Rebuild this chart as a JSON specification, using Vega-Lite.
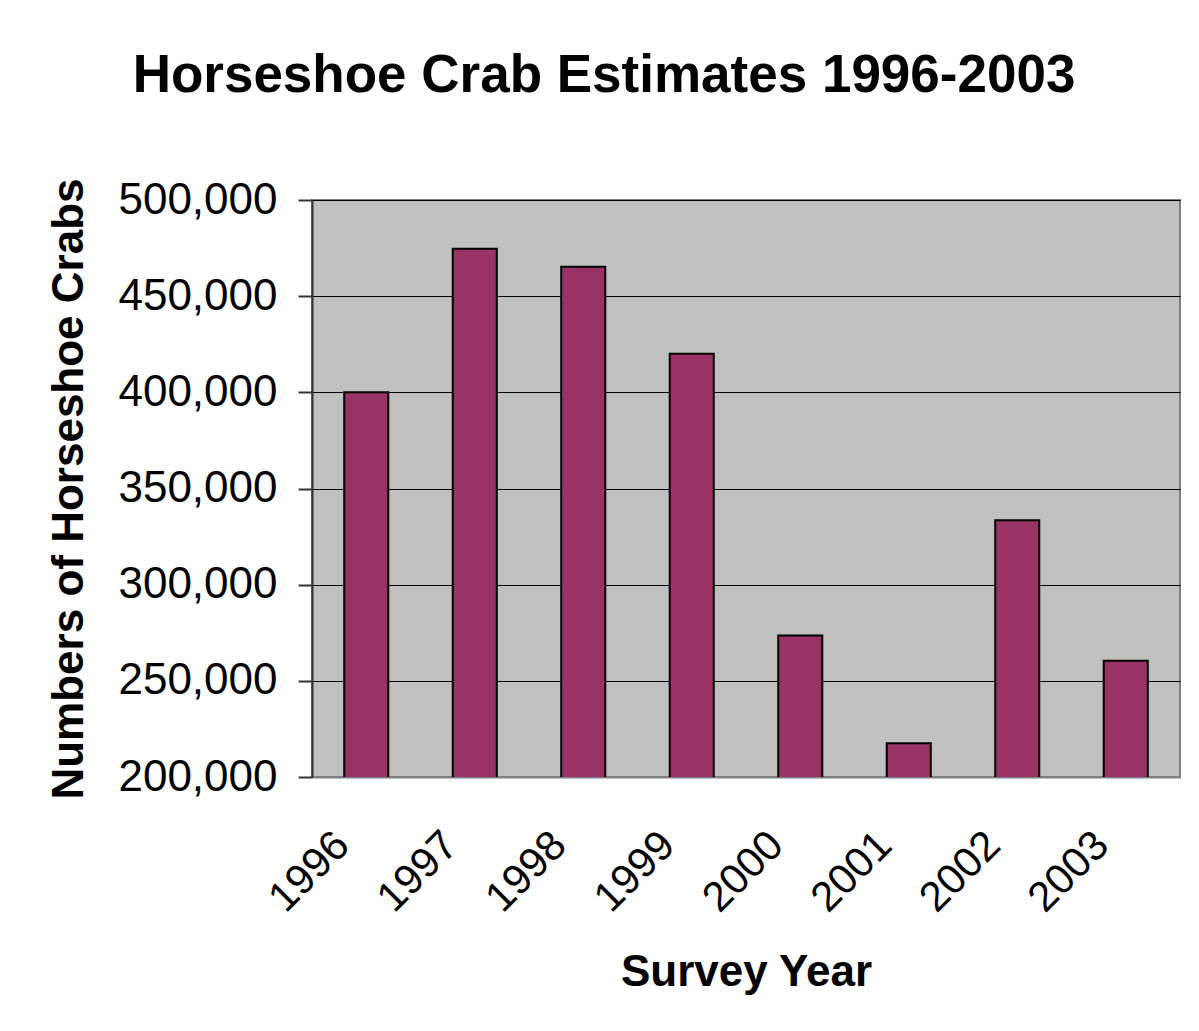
{
  "$schema": "https://vega.github.io/schema/vega-lite/v6.json",
  "width": 868,
  "height": 577,
  "autosize": {"type": "none"},
  "padding": {"left": 312, "top": 200, "right": 19, "bottom": 254},
  "background": "white",
  "title": {
    "text": "Horseshoe Crab Estimates 1996-2003",
    "font": "Liberation Sans",
    "fontSize": 53,
    "fontWeight": "bold",
    "color": "black",
    "anchor": "middle",
    "dx": -142,
    "offset": 75
  },
  "data": {
    "values": [
      {"year": "1996", "crabs": 400000},
      {"year": "1997", "crabs": 474600},
      {"year": "1998", "crabs": 465300},
      {"year": "1999", "crabs": 420000},
      {"year": "2000", "crabs": 273600},
      {"year": "2001", "crabs": 217500},
      {"year": "2002", "crabs": 333500},
      {"year": "2003", "crabs": 260400}
    ]
  },
  "mark": {"type": "bar", "fill": "#993366", "stroke": "black", "strokeWidth": 2, "clip": true},
  "encoding": {
    "x": {
      "field": "year",
      "type": "ordinal",
      "scale": {"paddingInner": 0.594, "paddingOuter": 0.297},
      "axis": {
        "title": "Survey Year",
        "labelAngle": -45,
        "labelFont": "Liberation Sans",
        "labelFontSize": 42,
        "labelColor": "black",
        "labelPadding": 47,
        "labelOffset": -38,
        "ticks": false,
        "domainColor": "#808080",
        "domainWidth": 2,
        "titleFont": "Liberation Sans",
        "titleFontSize": 44,
        "titleFontWeight": "bold",
        "titleColor": "black",
        "titlePadding": 31
      }
    },
    "y": {
      "field": "crabs",
      "type": "quantitative",
      "scale": {"domain": [200000, 500000], "zero": false, "nice": false},
      "axis": {
        "title": "Numbers of Horseshoe Crabs",
        "values": [200000, 250000, 300000, 350000, 400000, 450000, 500000],
        "format": ",.0f",
        "labelFont": "Liberation Sans",
        "labelFontSize": 44,
        "labelColor": "black",
        "labelPadding": 21,
        "tickSize": 14,
        "tickColor": "#333333",
        "tickWidth": 2,
        "domainColor": "#333333",
        "domainWidth": 2,
        "grid": true,
        "gridColor": "black",
        "gridWidth": 1,
        "titleFont": "Liberation Sans",
        "titleFontSize": 44,
        "titleFontWeight": "bold",
        "titleColor": "black",
        "titlePadding": 26
      }
    }
  },
  "config": {
    "view": {"fill": "#C0C0C0", "stroke": "#808080", "strokeWidth": 2}
  }
}
